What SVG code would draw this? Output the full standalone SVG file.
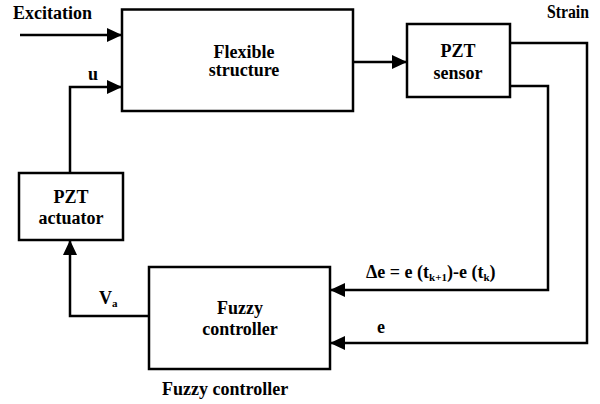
<svg xmlns="http://www.w3.org/2000/svg" width="600" height="404" viewBox="0 0 600 404">
<defs>
<marker id="ah" viewBox="0 0 15 14" refX="15" refY="7" markerWidth="15" markerHeight="14" markerUnits="userSpaceOnUse" orient="auto">
<path d="M0,0 L15,7 L0,14 Z" fill="#000"/>
</marker>
</defs>
<rect width="600" height="404" fill="#fff"/>
<g id="connectors" fill="none" stroke="#000" stroke-width="2.5">
<path d="M20,35 H122" marker-end="url(#ah)"/>
<path d="M70,173 V87 H122" marker-end="url(#ah)"/>
<path d="M353,62 H407" marker-end="url(#ah)"/>
<path d="M510,86 H548 V290 H330" marker-end="url(#ah)"/>
<path d="M510,43 H587 V343 H330" marker-end="url(#ah)"/>
<path d="M149,316 H70 V240" marker-end="url(#ah)"/>
</g>
<g id="flexible-structure">
<rect x="122" y="9.5" width="231" height="101.5" fill="#fff" stroke="#000" stroke-width="2.5"/>
<text font-family="Liberation Serif, serif" font-size="18" font-weight="bold" text-anchor="middle" x="244" y="58">Flexible</text>
<text font-family="Liberation Serif, serif" font-size="18" font-weight="bold" text-anchor="middle" x="244" y="76">structure</text>
</g>
<g id="pzt-sensor">
<rect x="407" y="24" width="103" height="73" fill="#fff" stroke="#000" stroke-width="2.5"/>
<text font-family="Liberation Serif, serif" font-size="18" font-weight="bold" text-anchor="middle" x="458" y="57">PZT</text>
<text font-family="Liberation Serif, serif" font-size="18" font-weight="bold" text-anchor="middle" x="458" y="79">sensor</text>
</g>
<g id="pzt-actuator">
<rect x="19" y="173" width="104" height="67" fill="#fff" stroke="#000" stroke-width="2.5"/>
<text font-family="Liberation Serif, serif" font-size="18" font-weight="bold" text-anchor="middle" x="71" y="203">PZT</text>
<text font-family="Liberation Serif, serif" font-size="18" font-weight="bold" text-anchor="middle" x="71" y="224">actuator</text>
</g>
<g id="fuzzy-controller">
<rect x="149" y="267" width="181" height="102" fill="#fff" stroke="#000" stroke-width="2.5"/>
<text font-family="Liberation Serif, serif" font-size="18" font-weight="bold" text-anchor="middle" x="240" y="314">Fuzzy</text>
<text font-family="Liberation Serif, serif" font-size="18" font-weight="bold" text-anchor="middle" x="240" y="335">controller</text>
</g>
<g id="labels">
<text font-family="Liberation Serif, serif" font-size="18" font-weight="bold" x="13" y="19">Excitation</text>
<text font-family="Liberation Serif, serif" font-size="18" font-weight="bold" x="589" y="18" text-anchor="end" textLength="42" lengthAdjust="spacingAndGlyphs">Strain</text>
<text font-family="Liberation Serif, serif" font-size="18" font-weight="bold" x="88" y="80">u</text>
<text font-family="Liberation Serif, serif" font-size="18" font-weight="bold" x="99" y="304">V<tspan font-size="11" dy="3">a</tspan></text>
<text font-family="Liberation Serif, serif" font-size="18" font-weight="bold" x="366" y="278">Δe = e (t<tspan font-size="11" dy="3">k+1</tspan><tspan dy="-3">)-e (t</tspan><tspan font-size="11" dy="3">k</tspan><tspan dy="-3">)</tspan></text>
<text font-family="Liberation Serif, serif" font-size="18" font-weight="bold" x="377" y="333">e</text>
<text font-family="Liberation Serif, serif" font-size="18" font-weight="bold" x="162" y="395">Fuzzy controller</text>
</g>
</svg>
